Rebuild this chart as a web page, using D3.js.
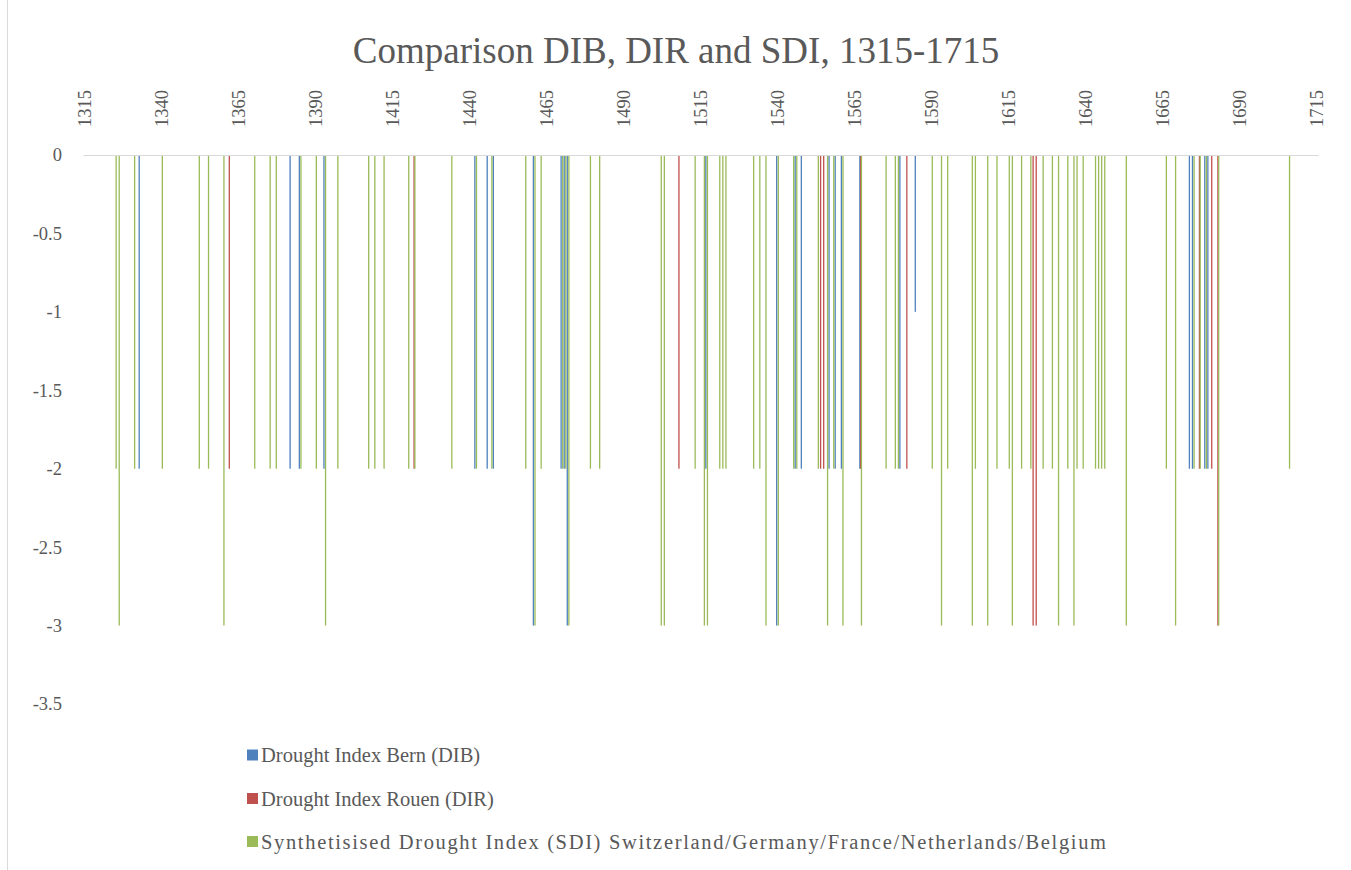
<!DOCTYPE html>
<html>
<head>
<meta charset="utf-8">
<script src="https://cdn.jsdelivr.net/npm/d3@7"></script>
</head>
<body style="margin:0">
<svg id="chart" width="1351" height="870"></svg>
<script>
// ---- Data ----
const title = "Comparison DIB, DIR and SDI, 1315-1715";
const firstYear = 1315;
const lastYear = 1715;
const categories = d3.range(firstYear, lastYear + 1);
const xTickLabels = [1315, 1340, 1365, 1390, 1415, 1440, 1465, 1490, 1515, 1540, 1565, 1590, 1615, 1640, 1665, 1690, 1715];
const yTickLabels = [0, -0.5, -1, -1.5, -2, -2.5, -3, -3.5];
const seriesNames = [
  "Drought Index Bern (DIB)",
  "Drought Index Rouen (DIR)",
  "Synthetisised Drought Index (SDI) Switzerland/Germany/France/Netherlands/Belgium"
];
const seriesColors = ["#4F81BD", "#C0504D", "#9BBB59"];

// [year, value] — years without a drought have no value
const dib = [
  [1333, -2], [1382, -2], [1385, -2], [1393, -2], [1442, -2], [1446, -2], [1448, -2],
  [1461, -3], [1470, -2], [1471, -2], [1472, -3], [1517, -2], [1540, -3], [1546, -2],
  [1548, -2], [1557, -2], [1559, -2], [1561, -2], [1567, -2], [1580, -2], [1585, -1],
  [1674, -2], [1675, -2], [1679, -2], [1680, -2]
];
const dir = [
  [1362, -2], [1422, -2], [1508, -2], [1554, -2], [1555, -2], [1567, -2], [1582, -2],
  [1623, -3], [1624, -3], [1677, -2], [1681, -2], [1683, -3]
];
const sdi = [
  [1325, -2], [1326, -3], [1331, -2], [1340, -2], [1352, -2], [1355, -2], [1360, -3],
  [1370, -2], [1375, -2], [1377, -2], [1385, -2], [1390, -2], [1393, -3], [1397, -2],
  [1407, -2], [1409, -2], [1412, -2], [1420, -2], [1422, -2], [1434, -2], [1442, -2],
  [1447, -2], [1458, -2], [1461, -3], [1463, -2], [1470, -2], [1471, -2], [1472, -3],
  [1479, -2], [1482, -2], [1502, -3], [1503, -3], [1513, -2], [1516, -3], [1517, -3],
  [1521, -2], [1522, -2], [1523, -2], [1532, -2], [1534, -2], [1536, -3], [1540, -3],
  [1545, -2], [1546, -2], [1553, -2], [1556, -3], [1558, -2], [1561, -3], [1567, -3],
  [1575, -2], [1578, -2], [1579, -2], [1590, -2], [1593, -3], [1595, -2], [1603, -3],
  [1604, -2], [1608, -3], [1611, -2], [1615, -2], [1616, -3], [1619, -2], [1622, -2],
  [1626, -2], [1629, -2], [1631, -3], [1634, -2], [1636, -3], [1637, -2], [1639, -2],
  [1643, -2], [1644, -2], [1645, -2], [1646, -2], [1653, -3], [1666, -2], [1669, -3],
  [1675, -2], [1677, -2], [1679, -2], [1683, -3], [1706, -2]
];
const seriesData = [dib, dir, sdi];

// ---- Layout ----
const TEXT_COLOR = "#595959";
const svg = d3.select("#chart");
const plot = { left: 83, right: 1318, top: 155, bottom: 704 };

svg.append("line")
  .attr("x1", 7.5).attr("x2", 7.5).attr("y1", 0).attr("y2", 870)
  .attr("stroke", "#d9d9d9").attr("stroke-width", 1);

const x = d3.scaleBand().domain(categories).range([plot.left, plot.right]).padding(0);
const y = d3.scaleLinear().domain([-3.5, 0]).range([plot.bottom, plot.top]);

const subOffsets = [-0.8, 0, 0.8];
const barW = 1.3;

// bars
seriesData.forEach((data, i) => {
  svg.append("g")
    .selectAll("rect")
    .data(data)
    .join("rect")
    .attr("x", d => x(d[0]) + x.bandwidth() / 2 + subOffsets[i] - barW / 2)
    .attr("width", barW)
    .attr("y", y(0))
    .attr("height", d => y(d[1]) - y(0))
    .attr("fill", seriesColors[i]);
});

// x axis (on top, at value 0)
const xAxis = svg.append("g")
  .attr("transform", `translate(0,${y(0)})`)
  .call(d3.axisTop(x).tickValues(xTickLabels).tickSize(0).tickSizeOuter(0));
xAxis.attr("font-family", null).attr("font-size", null);
xAxis.select(".domain").attr("stroke", "#d9d9d9");
xAxis.selectAll("text")
  .attr("transform", "rotate(-90)")
  .attr("x", 28).attr("y", 0).attr("dy", "0.35em")
  .attr("text-anchor", "start")
  .attr("fill", TEXT_COLOR)
  .style("font-family", '"Liberation Serif"')
  .style("font-size", "18.5px");

// y axis
const yAxis = svg.append("g")
  .attr("transform", `translate(${plot.left},0)`)
  .call(d3.axisLeft(y).tickValues(yTickLabels).tickSize(0).tickPadding(21).tickFormat(d => String(d)));
yAxis.attr("font-family", null).attr("font-size", null);
yAxis.select(".domain").remove();
yAxis.selectAll("text")
  .attr("fill", TEXT_COLOR)
  .style("font-family", '"Liberation Serif"')
  .style("font-size", "18.5px");

// title
svg.append("text")
  .attr("x", 676).attr("y", 63)
  .attr("text-anchor", "middle")
  .attr("fill", TEXT_COLOR)
  .style("font-family", '"Liberation Serif"')
  .style("font-size", "37px")
  .text(title);

// legend
const legendRows = [755, 798.5, 841.5];
const legendTextLength = [null, null, 845];
seriesNames.forEach((name, i) => {
  svg.append("rect")
    .attr("x", 247).attr("y", legendRows[i] - 5.5)
    .attr("width", 11).attr("height", 11)
    .attr("fill", seriesColors[i]);
  const t = svg.append("text")
    .attr("x", 261).attr("y", legendRows[i]).attr("dy", "0.35em")
    .attr("fill", TEXT_COLOR)
    .style("font-family", '"Liberation Serif"')
    .style("font-size", "20.5px")
    .text(name);
  if (legendTextLength[i]) {
    t.attr("textLength", legendTextLength[i]).attr("lengthAdjust", "spacing");
  }
});
</script>
</body>
</html>
